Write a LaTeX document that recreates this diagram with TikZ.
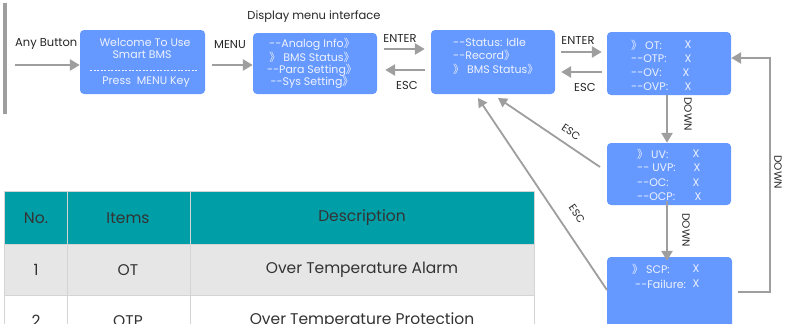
\documentclass[tikz,border=0pt]{standalone}
\usepackage{fontspec}
\setmainfont{Poppins}
\newfontfamily\cjk{Noto Sans CJK SC}
\usetikzlibrary{arrows.meta}
\newcommand{\dq}{{\cjk 》}}
\newcommand{\dd}{-{}-}
\definecolor{scrblue}{HTML}{6699FF}
\definecolor{scrtext}{HTML}{EEF2FF}
\definecolor{arrgray}{HTML}{9E9E9E}
\definecolor{teal}{HTML}{009FA8}
\definecolor{rowgray}{HTML}{E6E6E6}
\definecolor{gridgray}{HTML}{D4D4D4}
\definecolor{tabtext}{HTML}{333333}
\tikzset{
  scr/.style={fill=scrblue, draw=none, rounded corners=4pt, inner sep=0pt},
  stxt/.style={text=scrtext, font=\fontsize{11}{12}\selectfont, inner sep=0pt},
  lbl/.style={text=black!85, font=\fontsize{11.5}{12}\selectfont, inner sep=0pt},
  slbl/.style={text=black!85, font=\fontsize{10.5}{11}\selectfont, inner sep=0pt},
  tarr/.style={draw=arrgray, line width=2.6pt, -{Triangle[length=10pt,width=11pt]}},
  darr/.style={draw=arrgray, line width=1.8pt, -{Triangle[length=9pt,width=10pt]}},
  ttxt/.style={text=tabtext, font=\fontsize{15.5}{16}\selectfont, inner sep=0pt},
}
\begin{document}
\begin{tikzpicture}[x=1pt,y=-1pt]
\useasboundingbox (0,0) rectangle (785,324);
\clip (0,0) rectangle (785,324);
% gray bar
\fill[arrgray] (2.5,3) rectangle (6.5,114);
% table
\fill[teal] (4,191) rectangle (534,244);
\fill[rowgray] (4,244) rectangle (534,295);
\fill[white] (4,295) rectangle (534,350);
\draw[gridgray, line width=0.8pt] (4,191) rectangle (534,350);
\draw[gridgray, line width=0.8pt] (4,244) -- (534,244) (4,295) -- (534,295)
  (67,191) -- (67,350) (190,191) -- (190,350);
\node[ttxt] (h1) at (36,218) {No.};
\node[ttxt] (h2) at (128,218) {Items};
\node[ttxt] (h3) at (362,218) {Description};
\node[ttxt] (r11) at (36,270) {1};
\node[ttxt] (r12) at (128,270) {OT};
\node[ttxt] (r13) at (362,270) {Over Temperature Alarm};
\node[ttxt] (r21) at (36,321) {2};
\node[ttxt] (r22) at (128,321) {OTP};
\node[ttxt] (r23) at (362,321) {Over Temperature Protection};
% boxes
\node[scr, minimum width=125pt, minimum height=64pt] (b1) at (142.5,62) {};
\node[scr, minimum width=124pt, minimum height=61pt] (b2) at (315,63.5) {};
\node[scr, minimum width=124pt, minimum height=64pt] (b3) at (493,62) {};
\node[scr, minimum width=124pt, minimum height=63pt] (b4) at (669,63.5) {};
\node[scr, minimum width=124pt, minimum height=62pt] (b5) at (669,174) {};
\node[scr, minimum width=125pt, minimum height=90pt] (b6) at (669.5,302) {};
% box1 text
\node[stxt] (t11) at (145,42) {Welcome To Use};
\node[stxt] (t12) at (142,55) {Smart BMS};
\draw[scrtext, line width=0.6pt, dash pattern=on 2pt off 1.5pt] (90,70) -- (198,70);
\node[stxt] (t13) at (146,82) {Press\ \ MENU Key};
% box2 text
\node[stxt] (t21) at (312,44) {\dd Analog Info\dq};
\node[stxt] (t22) at (312,57.5) {\dq\ BMS Status\dq};
\node[stxt] (t23) at (312,70) {\dd Para Setting\dq};
\node[stxt] (t24) at (312,82.5) {\dd Sys Setting\dq};
% box3 text
\node[stxt, anchor=west] (t31) at (453,42) {\dd Status: Idle};
\node[stxt, anchor=west] (t32) at (453,55) {\dd Record\dq};
\node[stxt, anchor=west] (t33) at (453,69.5) {\dq\ BMS Status\dq};
% box4 text
\node[stxt, anchor=west] (t41) at (631,45) {\dq\ OT:};
\node[stxt, anchor=west] (t42) at (631,59) {\dd OTP:};
\node[stxt, anchor=west] (t43) at (631,73) {\dd OV:};
\node[stxt, anchor=west] (t44) at (631,87) {\dd OVP:};
\node[stxt] (x41) at (688,45) {X};
\node[stxt] (x42) at (688,59) {X};
\node[stxt] (x43) at (686,73) {X};
\node[stxt] (x44) at (688,87) {X};
% box5 text
\node[stxt, anchor=west] (t51) at (637,154) {\dq\ UV:};
\node[stxt, anchor=west] (t52) at (637,168) {\dd\ UVP:};
\node[stxt, anchor=west] (t53) at (637,183) {\dd OC:};
\node[stxt, anchor=west] (t54) at (637,197) {\dd OCP:};
\node[stxt] (x51) at (696,154) {X};
\node[stxt] (x52) at (697,168) {X};
\node[stxt] (x53) at (696,183) {X};
\node[stxt] (x54) at (698,197) {X};
% box6 text
\node[stxt, anchor=west] (t61) at (632,269) {\dq\ SCP:};
\node[stxt, anchor=west] (t62) at (635,284) {\dd Failure:};
\node[stxt] (x61) at (696,269) {X};
\node[stxt] (x62) at (696,284) {X};
% labels
\node[lbl] (disp) at (314,17) {Display menu interface};
\node[lbl, anchor=west] (anyb) at (15,44) {Any Button};
\node[lbl] (menu) at (230,45) {MENU};
\node[lbl] (ent1) at (400,38) {ENTER};
\node[lbl] (esc1) at (407,85) {ESC};
\node[lbl] (ent2) at (578,40) {ENTER};
\node[lbl] (esc2) at (585,87) {ESC};
\node[slbl, rotate=-90] (dn1) at (688,114) {DOWN};
\node[slbl, rotate=-90] (dn2) at (686,230) {DOWN};
\node[slbl, rotate=-90] (dn3) at (778,172) {DOWN};
\node[slbl, rotate=-34] (escd1) at (571,132) {ESC};
\node[slbl, rotate=-56] (escd2) at (577,214) {ESC};
% arrows
\coordinate (s0) at (15,65);
\draw[tarr] (s0) -- (b1.west |- s0);
\draw[tarr] (b1.east |- 0,65) ++(7,0) -- (b2.west |- 0,65);
\draw[tarr] (b2.east |- 0,49) ++(7,0) -- ([xshift=-6pt]b3.west |- 0,49);
\draw[tarr] ([xshift=-6pt]b3.west |- 0,70) -- ([xshift=8pt]b2.east |- 0,70);
\draw[tarr] ([xshift=6pt]b3.east |- 0,52) -- ([xshift=-5pt]b4.west |- 0,52);
\draw[tarr] ([xshift=-5pt]b4.west |- 0,72) -- ([xshift=6pt]b3.east |- 0,72);
\draw[tarr] (b4.south -| 667,0) -- (b5.north -| 667,0);
\draw[tarr] ([yshift=4pt]b5.south -| 667,0) -- ([yshift=-4pt]b6.north -| 667,0);
\coordinate (lp1) at (770,292);
\coordinate (lp2) at (770,58);
\draw[tarr] ([xshift=6pt]b6.east |- 0,292) -- (lp1) -- (lp2) -- (b4.east |- 0,58);
\coordinate (e1s) at (600,167);
\coordinate (e1t) at (498,98);
\coordinate (e2s) at (607,290);
\coordinate (e2t) at (478,98);
\draw[darr] (e1s) -- (e1t);
\draw[darr] (e2s) -- (e2t);
\end{tikzpicture}
\end{document}
